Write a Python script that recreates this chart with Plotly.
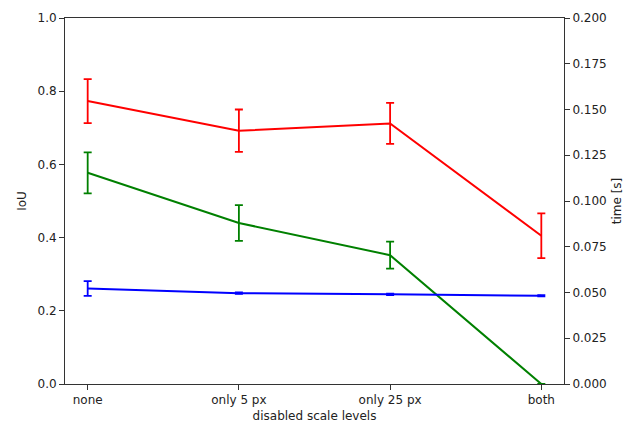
import plotly.graph_objects as go

categories = ["none", "only 5 px", "only 25 px", "both"]
iou_red = [0.773, 0.692, 0.712, 0.405]
iou_red_err = [0.060, 0.058, 0.056, 0.061]
iou_green = [0.577, 0.440, 0.352, 0.0]
iou_green_err = [0.056, 0.049, 0.037, 0.0]
time_blue = [0.0522, 0.0496, 0.0490, 0.0482]
time_blue_err = [0.0040, 0.0004, 0.0004, 0.0003]

x = list(range(len(categories)))
fig = go.Figure()

def add(y, err, color, yaxis="y"):
    fig.add_trace(go.Scatter(
        x=x, y=y, mode="lines", yaxis=yaxis,
        line=dict(color=color, width=2),
        error_y=dict(type="data", array=err, visible=True, color=color,
                     thickness=1.8, width=4),
        showlegend=False, cliponaxis=False))

add(iou_red, iou_red_err, "#ff0000")
add(iou_green, iou_green_err, "#008000")
add(time_blue, time_blue_err, "#0000ff", "y2")

font = dict(family="DejaVu Sans", size=12, color="#222")
fig.update_layout(
    width=627, height=425,
    margin=dict(l=65, r=63, t=18, b=41),
    plot_bgcolor="white", paper_bgcolor="white",
    font=font,
    xaxis=dict(range=[-0.15, 3.15], tickvals=x, ticktext=categories,
               automargin=False,
               showgrid=False, zeroline=False, showline=True, linecolor="#333",
               linewidth=1, mirror=True, ticks="outside", ticklen=5,
               tickcolor="#333",
               title=dict(text="disabled scale levels", standoff=5, font=font)),
    yaxis=dict(range=[0, 1.0], tickvals=[0, 0.2, 0.4, 0.6, 0.8, 1.0],
               ticktext=["0.0", "0.2", "0.4", "0.6", "0.8", "1.0"],
               automargin=False,
               showgrid=False, zeroline=False, showline=True, linecolor="#333",
               linewidth=1, ticks="outside", ticklen=5, tickcolor="#333",
               title=dict(text="IoU", standoff=8, font=font)),
    yaxis2=dict(range=[0, 0.2], overlaying="y", side="right",
                tickvals=[0, 0.025, 0.05, 0.075, 0.1, 0.125, 0.15, 0.175, 0.2],
                ticktext=["0.000", "0.025", "0.050", "0.075", "0.100", "0.125",
                          "0.150", "0.175", "0.200"],
                automargin=False,
                showgrid=False, zeroline=False, showline=True, linecolor="#333",
                linewidth=1, ticks="outside", ticklen=5, tickcolor="#333",
                title=dict(text="time [s]", standoff=6, font=font)),
)
fig.write_html("out.html")
